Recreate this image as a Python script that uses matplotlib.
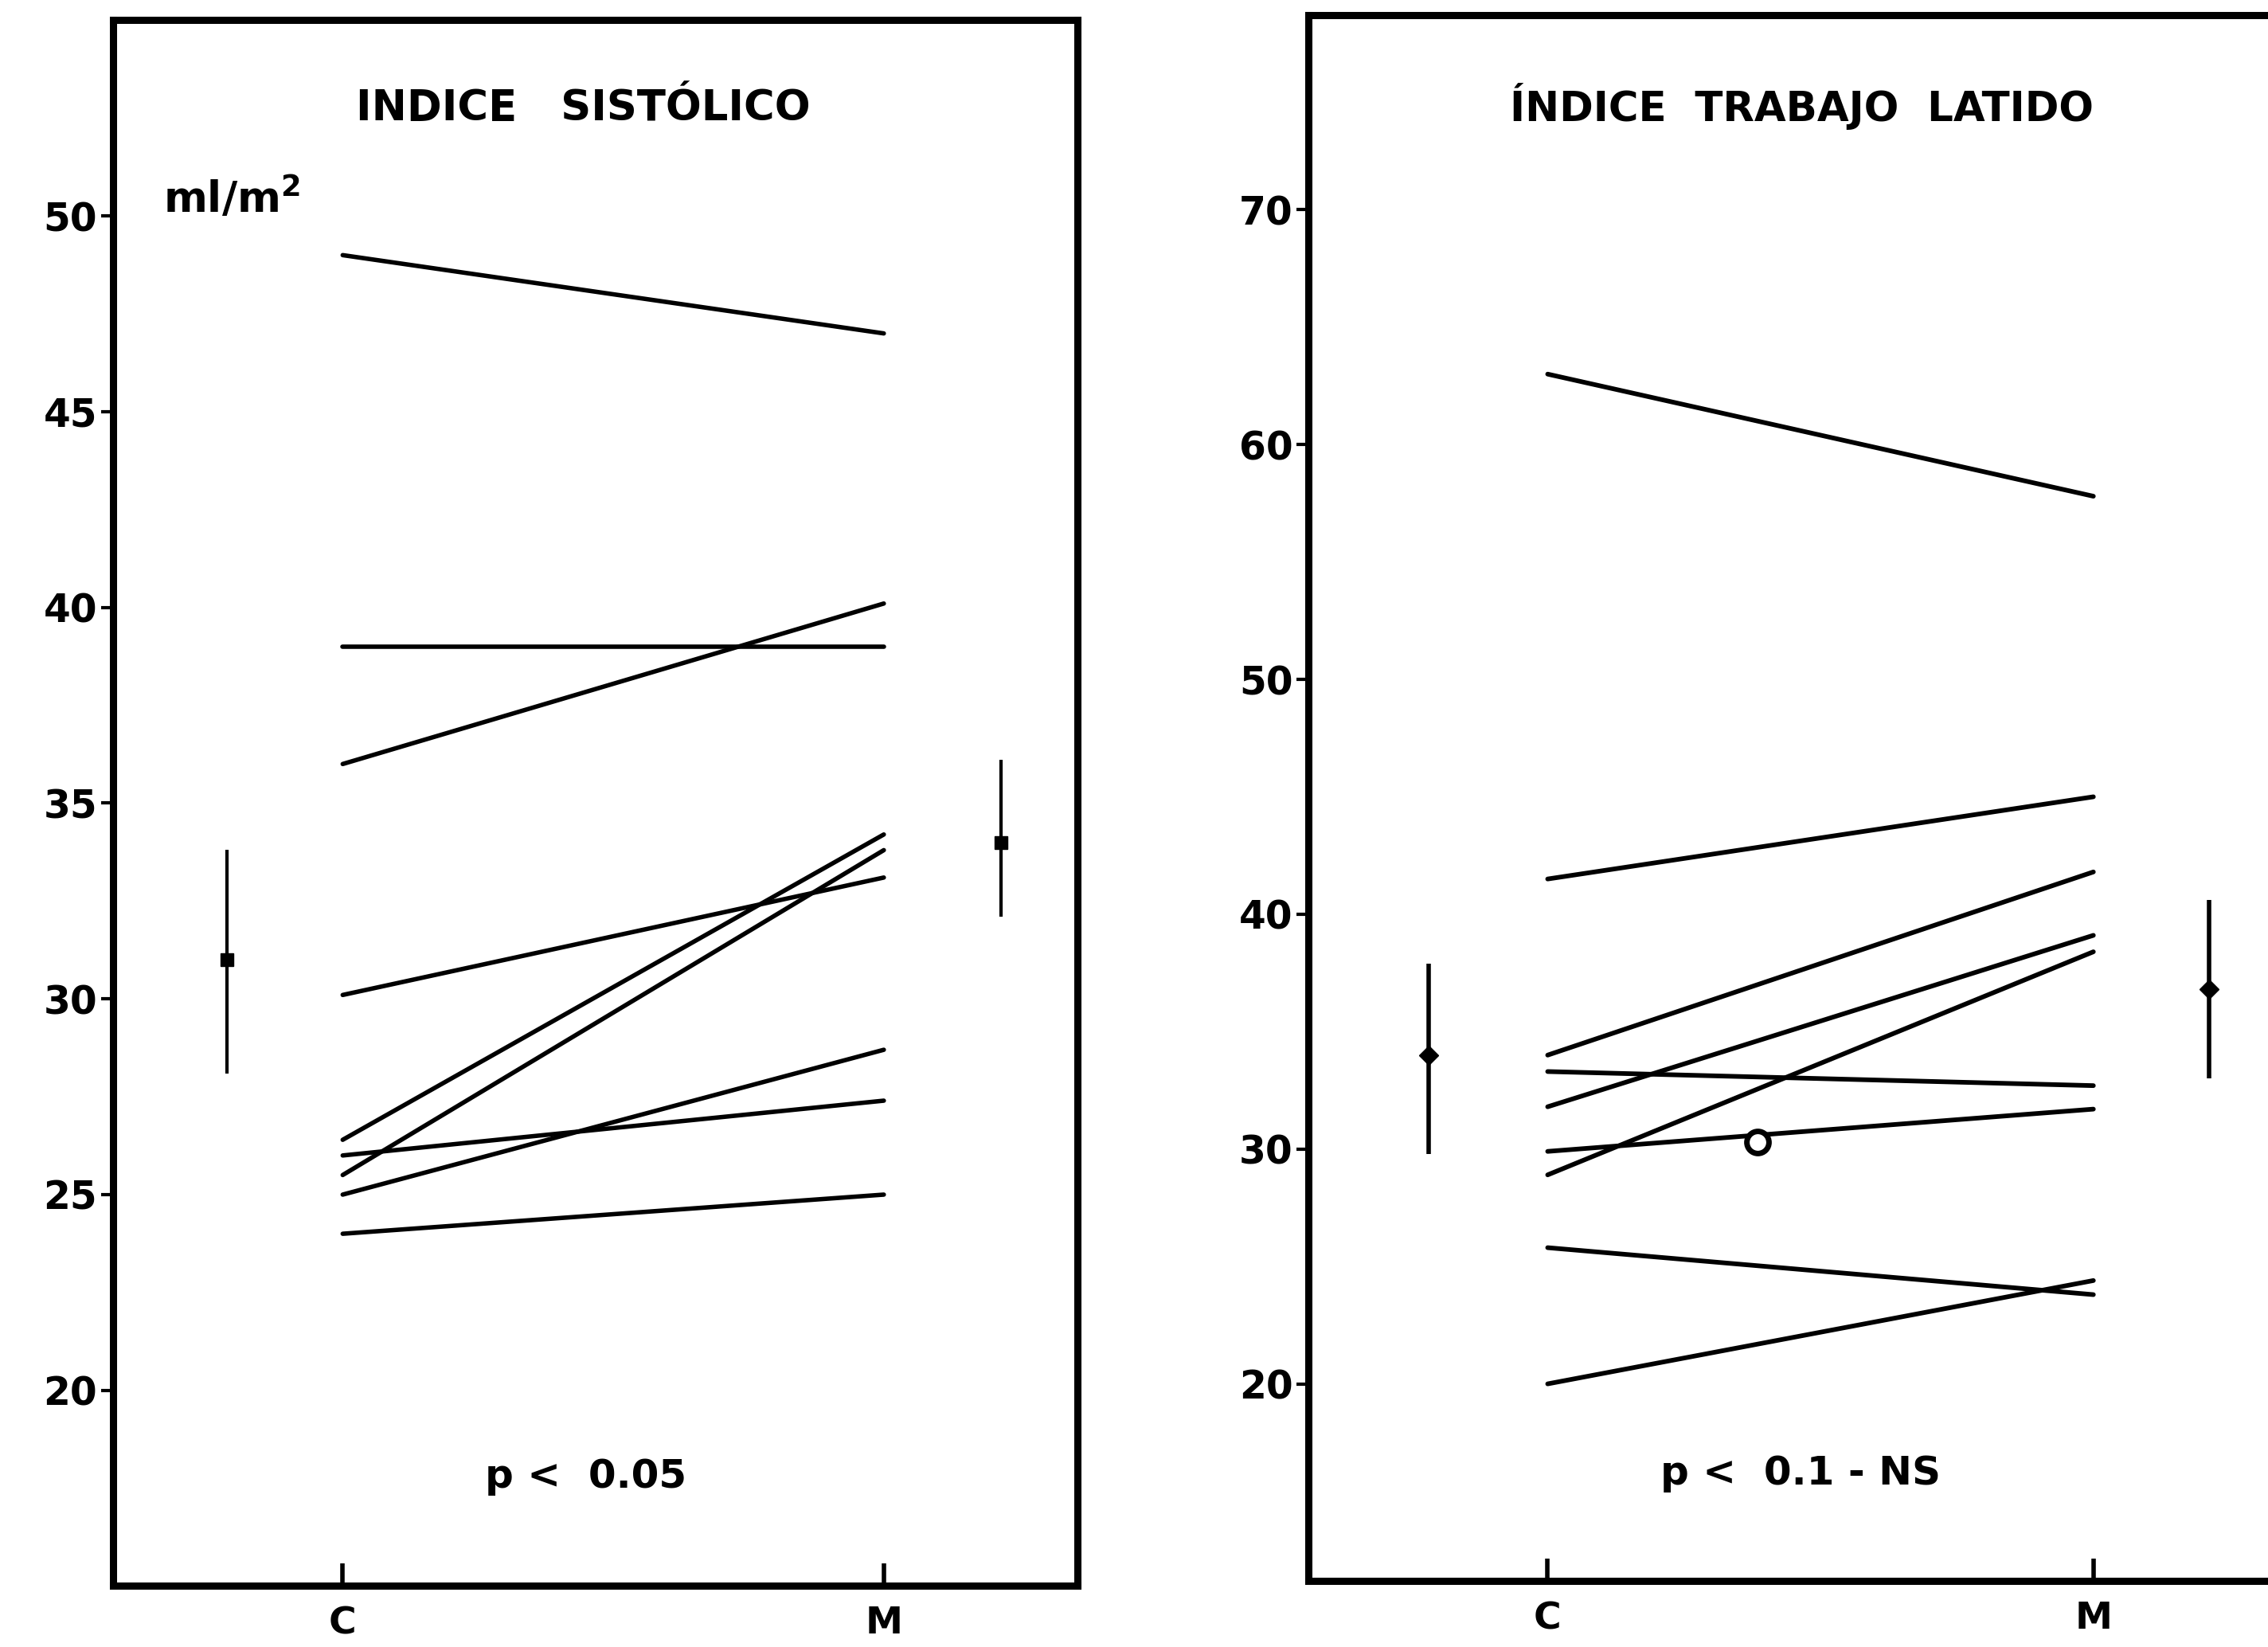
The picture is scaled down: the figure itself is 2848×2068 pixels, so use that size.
import matplotlib
matplotlib.use('Agg')
import matplotlib.pyplot as plt

plt.rcParams['font.family'] = ['DejaVu Sans']
plt.rcParams['font.weight'] = 'bold'

# --- Data ---
groups = ['C', 'M']

# Indice sistolico (ml/m2), one pair per patient
sis_c = [49.0, 39.0, 36.0, 30.1, 26.4, 25.5, 26.0, 25.0, 24.0]
sis_m = [47.0, 39.0, 40.1, 33.1, 34.2, 33.8, 27.4, 28.7, 25.0]
sis_mean = [31.0, 34.0]
sis_err_lo = [2.9, 1.9]
sis_err_hi = [2.8, 2.1]

# Indice trabajo latido
itl_c = [63.0, 41.5, 34.0, 31.8, 33.3, 29.9, 28.9, 25.8, 20.0]
itl_m = [57.8, 45.0, 41.8, 39.1, 32.7, 31.7, 38.4, 23.8, 24.4]
itl_mean = [34.0, 36.8]
itl_err_lo = [4.2, 3.8]
itl_err_hi = [3.9, 3.8]
itl_open_x = 1.385
itl_open_y = 30.3

sis_ticks = [20, 25, 30, 35, 40, 45, 50]
itl_ticks = [20, 30, 40, 50, 60, 70]

# --- Figure ---
fig = plt.figure(figsize=(28.48, 20.68), dpi=100)
ax1 = fig.add_axes([0.0497, 0.037, 0.4254, 0.9507])
ax2 = fig.add_axes([0.577, 0.040, 0.423, 0.951])

xs = [1, 2]


def style_axes(ax, ticks, ylim, xlim):
    ax.set_xlim(*xlim)
    ax.set_ylim(*ylim)
    for sp in ax.spines.values():
        sp.set_linewidth(6.5)
    ax.set_yticks(ticks)
    ax.set_yticklabels([str(t) for t in ticks], fontsize=35, fontweight='bold')
    ax.tick_params(axis='y', direction='out', length=11, width=3, pad=3)
    ax.set_xticks(xs)
    ax.set_xticklabels(groups, fontsize=34, fontweight='bold')
    ax.tick_params(axis='x', direction='in', length=20, width=4, pad=18)


# left panel
for c, m in zip(sis_c, sis_m):
    ax1.plot(xs, [c, m], color='black', lw=4, solid_capstyle='round')
ax1.errorbar([0.786, 2.217], sis_mean, yerr=[sis_err_lo, sis_err_hi],
             fmt='s', color='black', ms=12, elinewidth=3, capsize=0)
style_axes(ax1, sis_ticks, (15, 55), (0.575, 2.358))
ax1.text(1.445, 52.75, 'INDICE   SISTÓLICO', fontsize=38, fontweight='bold',
         ha='center', va='center')
ax1.text(0.668, 50.45, 'ml/m$^2$', fontsize=38, fontweight='bold',
         ha='left', va='center')
ax1.text(1.449, 17.8, 'p <  0.05', fontsize=36, fontweight='bold',
         ha='center', va='center')

# right panel
for c, m in zip(itl_c, itl_m):
    ax2.plot(xs, [c, m], color='black', lw=4.2, solid_capstyle='round')
ax2.errorbar([0.782, 2.212], itl_mean, yerr=[itl_err_lo, itl_err_hi],
             fmt='D', color='black', ms=12, elinewidth=4, capsize=0)
ax2.plot([itl_open_x], [itl_open_y], marker='o', ls='none', ms=20,
         mfc='white', mec='black', mew=5)
style_axes(ax2, itl_ticks, (11.6, 78.3), (0.562, 2.32))
ax2.spines['right'].set_visible(False)
ax2.text(1.465, 74.4, 'ÍNDICE  TRABAJO  LATIDO', fontsize=37, fontweight='bold',
         ha='center', va='center')
ax2.text(1.464, 16.2, 'p <  0.1 - NS', fontsize=36, fontweight='bold',
         ha='center', va='center')

fig.savefig('out.png', dpi=100)
